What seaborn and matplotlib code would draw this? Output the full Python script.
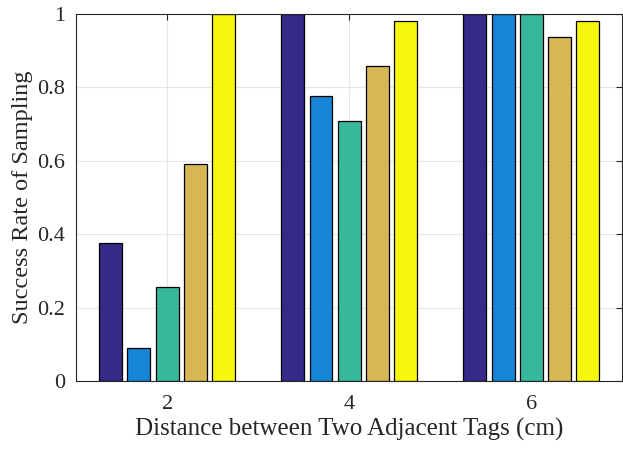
import matplotlib
matplotlib.use("Agg")
import matplotlib.pyplot as plt
import seaborn as sns
import pandas as pd

# data
distances = ["2", "4", "6"]
series = ["s1", "s2", "s3", "s4", "s5"]
s1 = [0.377, 1.0, 1.0]
s2 = [0.091, 0.777, 1.0]
s3 = [0.257, 0.708, 1.0]
s4 = [0.591, 0.859, 0.938]
s5 = [1.0, 0.980, 0.982]
colors = ["#352a87", "#1685d6", "#37b89d", "#d6b655", "#f5f80e"]

rows = []
for name, vals in zip(series, [s1, s2, s3, s4, s5]):
    for d, v in zip(distances, vals):
        rows.append({"distance": d, "series": name, "rate": v})
df = pd.DataFrame(rows)

sns.set_style("white")
plt.rcParams['font.family'] = ['Liberation Serif', 'DejaVu Serif']

fig = plt.figure(figsize=(6.23, 4.49), dpi=100)
ax = fig.add_axes([0.122, 0.1514, 0.877, 0.8174])

sns.barplot(data=df, x="distance", y="rate", hue="series", order=distances,
            hue_order=series, palette=colors, saturation=1, width=0.775, gap=0.19,
            edgecolor="black", linewidth=0.9, legend=False, ax=ax)

ax.set_xlim(-0.5, 2.5)
ax.set_ylim(0, 1)
ax.set_yticks([0, 0.2, 0.4, 0.6, 0.8, 1.0])
ax.set_yticklabels(["0", "0.2", "0.4", "0.6", "0.8", "1"])
ax.grid(True, color="#e6e6e6", linewidth=0.8)
ax.set_axisbelow(True)
for sp in ax.spines.values():
    sp.set_visible(True)
    sp.set_color("#262626")
    sp.set_linewidth(0.8)
ax.tick_params(direction="in", length=4, width=0.8, colors="#262626",
               labelsize=16, top=True, right=True, labelcolor="#262626")
ax.tick_params(axis="x", pad=10)
ax.tick_params(axis="y", pad=8)
ax.set_xlabel("Distance between Two Adjacent Tags (cm)", fontsize=18, color="#262626", labelpad=3)
ax.set_ylabel("Success Rate of Sampling", fontsize=17.5, color="#262626", labelpad=3)

fig.savefig("out.png", dpi=100)
